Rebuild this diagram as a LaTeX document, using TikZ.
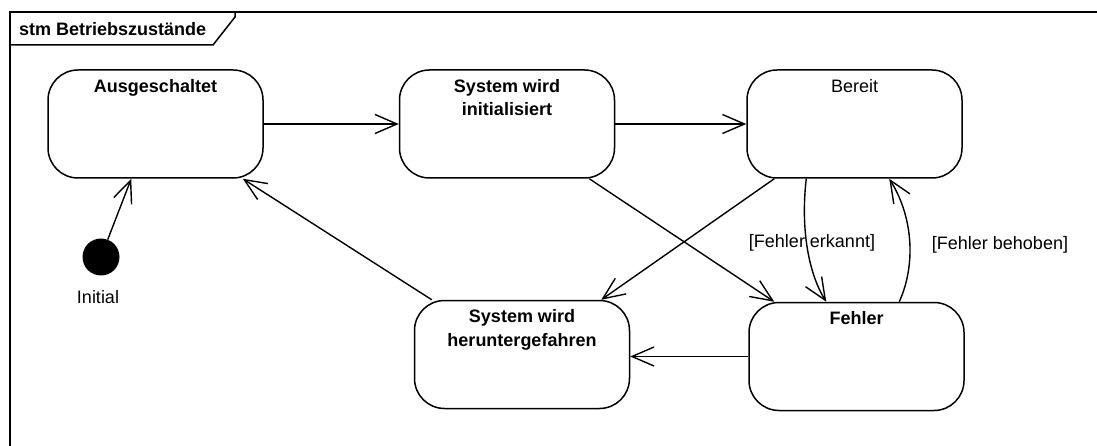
\documentclass[tikz,border=0pt]{standalone}
\usepackage{fontspec}
\setmainfont{Liberation Sans}
\usetikzlibrary{arrows.meta}
\begin{document}
\begin{tikzpicture}[x=1pt,y=-1pt,
  state/.style={draw,line width=1.5pt,rounded corners=30pt,minimum width=215pt,minimum height=108pt,inner sep=0pt},
  ttl/.style={anchor=north,inner sep=0pt,align=center,font=\fontsize{18}{23.5}\selectfont\bfseries},
  ttlr/.style={anchor=north,inner sep=0pt,align=center,font=\fontsize{18}{23.5}\selectfont},
  lbl/.style={inner sep=0pt,font=\fontsize{18}{22}\selectfont},
  arr/.style={line width=1.4pt,-{Straight Barb[length=22pt,width=19pt,line width=1.4pt]}}]
\useasboundingbox (0,0) rectangle (1097,446);
% frame
\draw[line width=2pt] (10,450) -- (10,12) -- (1100,12);
\draw[line width=1.5pt] (235,12) -- (235,17) -- (213,45) -- (10,45);
\node[anchor=base west,inner sep=0pt,font=\fontsize{18}{22}\selectfont\bfseries] (frm) at (19,36) {stm Betriebszustände};
% states
\node[state] (A) at (155.5,124) {};
\node[state] (I) at (507,124) {};
\node[state] (B) at (854.5,124) {};
\node[state] (H) at (522,354.5) {};
\node[state] (F) at (856.5,356.5) {};
\node[ttl] (tA) at ([yshift=-10]A.north) {Ausgeschaltet};
\node[ttl] (tI) at ([yshift=-10]I.north) {System wird\\initialisiert};
\node[ttlr] (tB) at ([yshift=-10]B.north) {Bereit};
\node[ttl] (tH) at ([yshift=-10]H.north) {System wird\\heruntergefahren};
\node[ttl] (tF) at ([yshift=-10]F.north) {Fehler};
% initial
\node[circle,fill,minimum size=37pt,inner sep=0pt] (init) at (101,257) {};
\node[lbl] (iniL) at (98,297) {Initial};
% transitions
\draw[arr] (init) -- ([xshift=84]A.south west);
\draw[arr] (A.east) -- (I.west);
\draw[arr] (I.east) -- (B.west);
\draw[arr] ([xshift=-26]I.south east) -- ([xshift=26]F.north west);
\draw[arr] ([xshift=28]B.south west) -- ([xshift=-29]H.north east);
\draw[arr] ([xshift=18]H.north west) -- ([xshift=-21]A.south east);
\draw[arr] ([xshift=60]B.south west) .. controls +(-6,52) and +(-17,-27) .. ([xshift=78]F.north west);
\draw[arr] ([xshift=151]F.north west) .. controls +(16,-35) and +(25,40) .. ([xshift=143]B.south west);
\draw[arr] (F.west) -- (F.west -| H.east);
\node[lbl] (e1) at (812,243) {[Fehler erkannt]};
\node[lbl] (e2) at (1000,245) {[Fehler behoben]};
\end{tikzpicture}
\end{document}
